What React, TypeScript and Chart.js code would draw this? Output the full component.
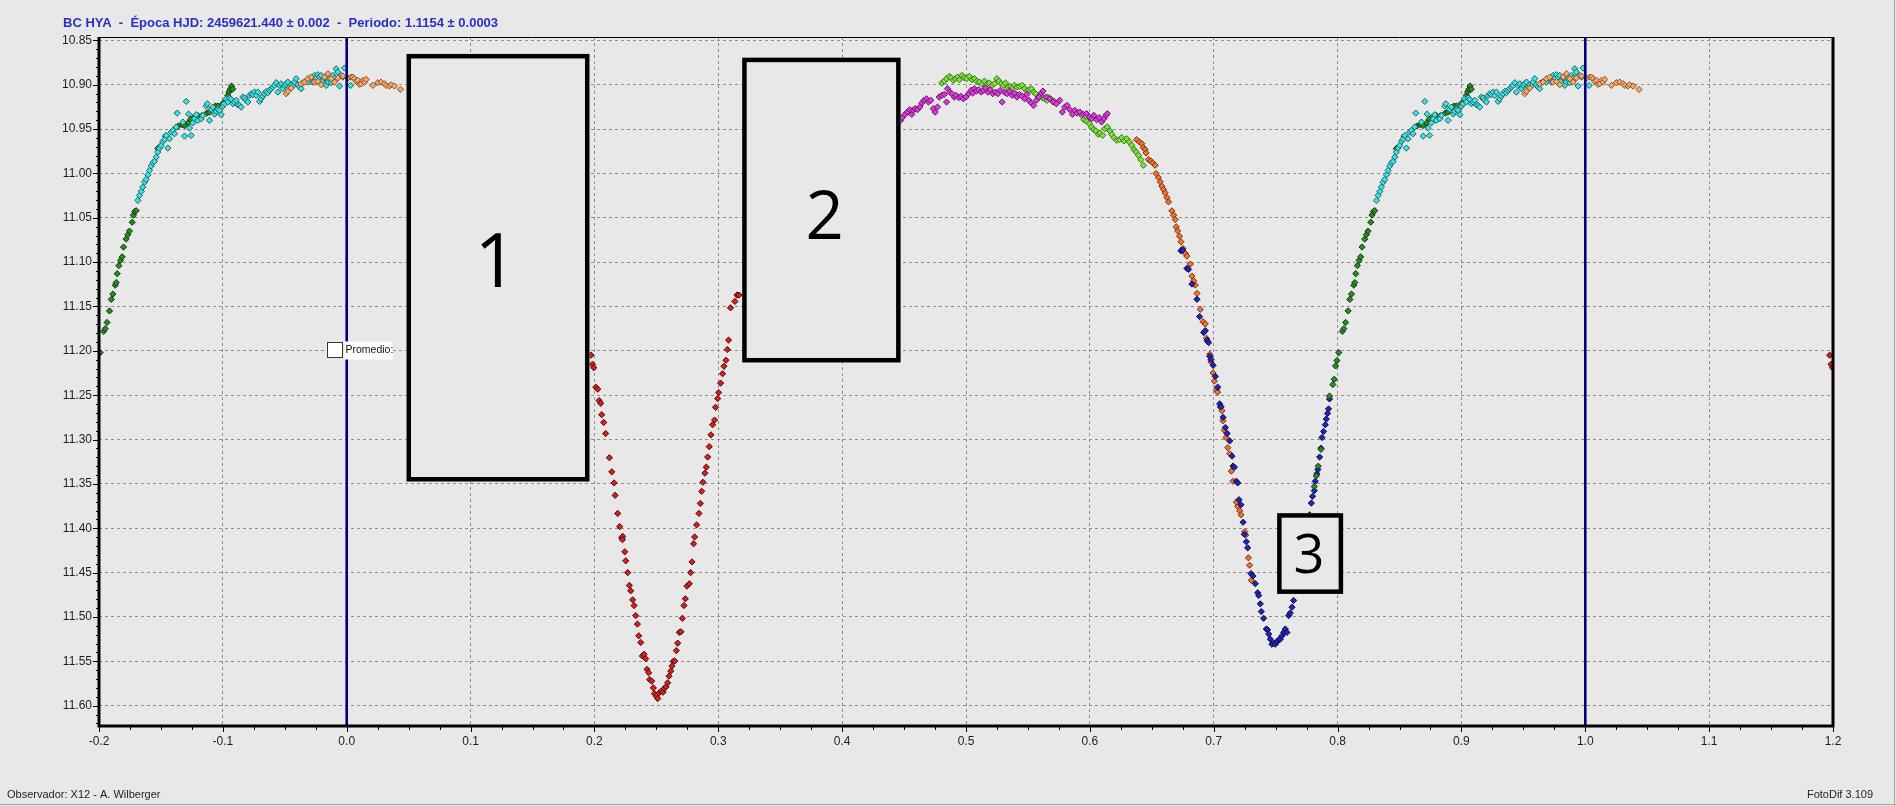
import React, { useEffect, useRef } from "react";
import { Chart, registerables } from "chart.js";

Chart.register(...registerables);

// ---------------- Text ----------------
const TITLE = "BC HYA  -  Época HJD: 2459621.440 ± 0.002  -  Periodo: 1.1154 ± 0.0003";
const FOOT_LEFT = "Observador: X12 - A. Wilberger";
const FOOT_RIGHT = "FotoDif 3.109";
const LEGEND_TEXT = "Promedio:";

// ---------------- Axes ----------------
const X_MIN = -0.2;
const X_MAX = 1.2;
const Y_MIN = 10.8462;
const Y_MAX = 11.6229;
const X_TICKS = [-0.2, -0.1, 0.0, 0.1, 0.2, 0.3, 0.4, 0.5, 0.6, 0.7, 0.8, 0.9, 1.0, 1.1, 1.2];
const X_LABELS = ["-0.2", "-0.1", "0.0", "0.1", "0.2", "0.3", "0.4", "0.5", "0.6", "0.7", "0.8", "0.9", "1.0", "1.1", "1.2"];
const Y_TICKS = [10.85, 10.9, 10.95, 11.0, 11.05, 11.1, 11.15, 11.2, 11.25, 11.3, 11.35, 11.4, 11.45, 11.5, 11.55, 11.6];
const Y_LABELS = ["10.85", "10.90", "10.95", "11.00", "11.05", "11.10", "11.15", "11.20", "11.25", "11.30", "11.35", "11.40", "11.45", "11.50", "11.55", "11.60"];
const PHASE_MARKERS = [0, 1];

// ---------------- Annotation boxes (phase / magnitude extents) ----------------
const BOX_LABELS = ["1", "2", "3"];
const BOX_X0 = [0.0483, 0.3193, 0.7512];
const BOX_X1 = [0.196, 0.4472, 0.8045];
const BOX_Y0 = [10.8653, 10.8695, 11.383];
const BOX_Y1 = [11.3473, 11.2131, 11.474];
const BOX_TX = [0.1204, 0.3859, 0.7768];
const BOX_TY = [11.0973, 11.0466, 11.4292];
const BOX_FONT = [75, 67, 54];

// ---------------- Series (phase, magnitude) ----------------
const darkGreenPhase = [
  0.7812, 0.7828, 0.7844, 0.7866, 0.7935, 0.7962, 0.7973, 0.7984, 0.7995,
  -0.199, -0.1962, -0.1949, -0.1935, -0.1915, -0.1901, -0.1888, -0.1869, -0.1861, -0.1853, -0.184, -0.1826, -0.1813,
  -0.1802, -0.1781, -0.1767, -0.1754, -0.1732, -0.1722, -0.1711, -0.17, -0.1525, -0.1511, -0.1463, -0.136, -0.133,
  -0.131, -0.128, -0.126, -0.123, -0.12, -0.117, -0.113, -0.111, -0.108, -0.106, -0.104, -0.1, -0.097, -0.096,
  -0.095, -0.094, -0.093, -0.092,
];
const darkGreenMag = [
  11.353, 11.341, 11.33, 11.311, 11.251, 11.238, 11.232, 11.217, 11.211,
  11.202, 11.178, 11.175, 11.168, 11.155, 11.142, 11.136, 11.126, 11.123, 11.113, 11.104, 11.098, 11.094,
  11.083, 11.074, 11.069, 11.065, 11.055, 11.047, 11.043, 11.042, 10.972, 10.97, 10.958, 10.9466, 10.945,
  10.946, 10.943, 10.939, 10.936, 10.935, 10.935, 10.932, 10.931, 10.926, 10.924, 10.924, 10.921, 10.918, 10.912,
  10.908, 10.905, 10.9015, 10.905,
];

const cyanPhase = [
  -0.1686, -0.1673, -0.1659, -0.1646, -0.1632, -0.1619, -0.1605, -0.1592, -0.1579, -0.1565, -0.1552, -0.1538,
  -0.1525, -0.1511, -0.1498, -0.1484, -0.1471, -0.1457, -0.1444, -0.1431, -0.1417, -0.1404, -0.139, -0.1377,
  -0.1369, -0.1323, -0.1309, -0.1296, -0.1277, -0.1269, -0.1256, -0.1242, -0.1229, -0.1215, -0.1202, -0.1175,
  -0.1161, -0.1135, -0.1126, -0.1108, -0.1094, -0.1081, -0.1067, -0.1054, -0.104, -0.1027, -0.1013, -0.1,
  -0.0987, -0.0973, -0.096, -0.0946, -0.0933, -0.0919, -0.0906, -0.0892, -0.0879, -0.0865, -0.0852, -0.0839,
  -0.0825, -0.0812, -0.0798, -0.0785, -0.0771, -0.0758, -0.0744, -0.0731, -0.0717, -0.0704, -0.0691, -0.0677,
  -0.0664, -0.065, -0.0637, -0.0623, -0.061, -0.0596, -0.0583, -0.0569, -0.0556, -0.0543, -0.0529, -0.0516,
  -0.0502, -0.0489, -0.0475, -0.0462, -0.0448, -0.0435, -0.0421, -0.0408, -0.0394, -0.0381, -0.0368, -0.0354,
  -0.0314, -0.0287, -0.0273, -0.026, -0.0246, -0.0233, -0.022, -0.0206, -0.0193, -0.0179, -0.0166, -0.0152,
  -0.0139, -0.0125, -0.0112, -0.0098, -0.0085, -0.0072, -0.0058, -0.0045, -0.0031, -0.0018, 0.0031,
];
const cyanMag = [
  11.0305, 11.0248, 11.0203, 11.0154, 11.0098, 11.0068, 11.0015, 10.9966, 10.9917, 10.988, 10.9865, 10.9816,
  10.9759, 10.9714, 10.9684, 10.9639, 10.9617, 10.9571, 10.9714, 10.9609, 10.9534, 10.9515, 10.9553, 10.9477,
  10.932, 10.9421, 10.9579, 10.9188, 10.9331, 10.9489, 10.9571, 10.9429, 10.9383, 10.9338, 10.9402, 10.9383,
  10.9346, 10.9241, 10.9214, 10.9402, 10.9278, 10.9252, 10.9331, 10.9301, 10.9278, 10.9289, 10.9338, 10.9241,
  10.9214, 10.9158, 10.9195, 10.915, 10.9165, 10.9214, 10.9195, 10.9177, 10.9226, 10.9233, 10.9252, 10.9139,
  10.915, 10.9177, 10.9195, 10.912, 10.9102, 10.9113, 10.9083, 10.912, 10.9083, 10.9188, 10.9158, 10.9128,
  10.9102, 10.9075, 10.909, 10.9064, 10.9045, 10.9026, 10.9008, 10.8977, 10.9083, 10.9008, 10.8989, 10.9045,
  10.9008, 10.8989, 10.897, 10.9026, 10.9, 10.9015, 10.897, 10.8932, 10.9, 10.9026, 10.9045, 10.8977,
  10.897, 10.8932, 10.897, 10.8895, 10.8925, 10.8887, 10.8914, 10.8895, 10.8951, 10.8925, 10.9008, 10.897,
  10.8932, 10.8977, 10.8895, 10.8925, 10.882, 10.8857, 10.9015, 10.8895, 10.8914, 10.8812, 10.9008,
];

const lightOrangePhase = [
  -0.0489, -0.0475, -0.0448, -0.0368, -0.0341, -0.0314, -0.0287, -0.026, -0.0233, -0.0206, -0.0179, -0.0152,
  -0.0125, -0.0098, -0.0072, -0.0031, 0.0009, 0.0036, 0.005, 0.0063, 0.0076, 0.009, 0.0103, 0.0117, 0.013,
  0.0144, 0.0157, 0.0211, 0.0251, 0.0278, 0.0305, 0.0319, 0.0345, 0.0359, 0.0386, 0.0434,
];
const lightOrangeMag = [
  10.9102, 10.9075, 10.9038, 10.8989, 10.897, 10.8932, 10.8914, 10.897, 10.8962, 10.9, 10.8914, 10.8876,
  10.8932, 10.897, 10.8925, 10.8902, 10.8925, 10.8914, 10.8914, 10.8932, 10.8962, 10.8951, 10.8996, 10.8989, 10.8951,
  10.897, 10.894, 10.9008, 10.8977, 10.897, 10.8989, 10.9008, 10.9015, 10.9, 10.9015, 10.9053,
];

const redPhase = [
  0.1973, 0.1984, 0.1995, 0.2011, 0.2027, 0.2038, 0.2051, 0.2059, 0.2075, 0.2091, 0.2121, 0.214, 0.2159, 0.2167,
  0.2188, 0.2204, 0.222, 0.2228, 0.2226, 0.2245, 0.2253, 0.2269, 0.2282, 0.2293, 0.2309, 0.232, 0.2333, 0.2347,
  0.2358, 0.2374, 0.2387, 0.2401, 0.2414, 0.2425, 0.2438, 0.2446, 0.2462, 0.2476, 0.2484, 0.25, 0.2511, 0.2522,
  0.2538, 0.2554, 0.2565, 0.2578, 0.2591, 0.2602, 0.2616, 0.2626, 0.2637, 0.2648, 0.2661, 0.2672, 0.2685, 0.2699,
  0.271, 0.2723, 0.2734, 0.2747, 0.2766, 0.2777, 0.2788, 0.2801, 0.2809, 0.2825, 0.2844, 0.2855, 0.2866, 0.2876,
  0.2892, 0.2903, 0.2914, 0.2927, 0.2941, 0.2954, 0.297, 0.2978, 0.2995, 0.3003, 0.3019, 0.3035, 0.3046, 0.3062,
  0.3073, 0.3083, 0.3099, 0.3134, 0.3151, 0.3167,
];
const redMag = [
  11.2049, 11.2152, 11.2189, 11.2409, 11.2432, 11.2561, 11.2591, 11.272, 11.2807, 11.2932, 11.3205, 11.3364, 11.3489, 11.3629,
  11.3833, 11.3981, 11.4106, 11.4091, 11.4129, 11.4265, 11.4367, 11.45, 11.4644, 11.4705, 11.4807, 11.4871, 11.4985, 11.508,
  11.5212, 11.5288, 11.5439, 11.542, 11.547, 11.5591, 11.5629, 11.5705, 11.5723, 11.5799, 11.5864, 11.5894, 11.592, 11.5856,
  11.5837, 11.5848, 11.5803, 11.5788, 11.5742, 11.5667, 11.561, 11.5553, 11.55, 11.5496, 11.5379, 11.5295, 11.5174, 11.5167,
  11.5015, 11.4871, 11.4795, 11.4652, 11.4625, 11.45, 11.4379, 11.4174, 11.4098, 11.3962, 11.3833, 11.372, 11.3583, 11.3481,
  11.3379, 11.3311, 11.3197, 11.308, 11.2947, 11.2833, 11.278, 11.2636, 11.2538, 11.247, 11.2364, 11.2258, 11.2174, 11.2106,
  11.1985, 11.1879, 11.1515, 11.1443, 11.1371, 11.1371,
];

const magentaPhase = [
  0.4473, 0.4486, 0.4508, 0.4527, 0.4546, 0.4562, 0.4573, 0.4589, 0.4608, 0.4627, 0.4643, 0.4662, 0.4681, 0.4697,
  0.4716, 0.4735, 0.4751, 0.477, 0.4784, 0.4805, 0.4824, 0.4843, 0.4851, 0.487, 0.4886, 0.4905, 0.4919, 0.4941,
  0.4959, 0.4978, 0.5, 0.5022, 0.5041, 0.5054, 0.5068, 0.5086, 0.5103, 0.5122, 0.5141, 0.5157, 0.5176, 0.5195,
  0.5216, 0.5238, 0.5257, 0.5276, 0.5292, 0.5311, 0.533, 0.5351, 0.5373, 0.5392, 0.5411, 0.5432, 0.5454, 0.5473,
  0.5492, 0.5508, 0.5527, 0.5546, 0.5568, 0.5589, 0.5608, 0.5622, 0.5649, 0.5676, 0.5703, 0.573, 0.5757, 0.5778,
  0.5797, 0.5816, 0.5838, 0.5859, 0.5878, 0.5897, 0.5919, 0.5946, 0.5973, 0.5995, 0.6014, 0.6032, 0.6054, 0.6076,
  0.6095, 0.6114, 0.613, 0.6141,
];
const magentaMag = [
  10.9401, 10.9371, 10.9334, 10.9308, 10.9281, 10.9334, 10.9289, 10.927, 10.9281, 10.9251, 10.9206, 10.9176, 10.9158, 10.9195,
  10.9176, 10.927, 10.9308, 10.9251, 10.9139, 10.912, 10.9109, 10.9195, 10.9045, 10.9083, 10.9101, 10.9139, 10.912, 10.9146,
  10.9131, 10.9158, 10.9139, 10.9101, 10.9064, 10.9094, 10.9045, 10.9071, 10.9056, 10.9083, 10.9064, 10.9034, 10.9083, 10.9056,
  10.9101, 10.9083, 10.9101, 10.9064, 10.9195, 10.9083, 10.9101, 10.9071, 10.912, 10.9094, 10.9139, 10.9109, 10.9131, 10.9158,
  10.9109, 10.9176, 10.9206, 10.9233, 10.9176, 10.9139, 10.9094, 10.9071, 10.9139, 10.9158, 10.9195, 10.9214, 10.9176, 10.9308,
  10.9251, 10.9233, 10.9281, 10.9334, 10.9289, 10.9319, 10.9308, 10.9334, 10.9326, 10.9364, 10.9383, 10.9345, 10.9394, 10.9371,
  10.942, 10.9383, 10.9345, 10.9326,
];

const lightGreenPhase = [
  0.4805, 0.4824, 0.4843, 0.4865, 0.4878, 0.4897, 0.4914, 0.4932, 0.4946, 0.4968, 0.4986, 0.5005, 0.5027, 0.5049,
  0.5068, 0.5086, 0.5108, 0.513, 0.5149, 0.5168, 0.5189, 0.5211, 0.523, 0.5249, 0.5265, 0.5284, 0.5303, 0.5319,
  0.5338, 0.5357, 0.5373, 0.5392, 0.5411, 0.5432, 0.5454, 0.5473, 0.5492, 0.5508, 0.5527, 0.5546, 0.5562, 0.5581,
  0.56, 0.5616, 0.5635, 0.5654, 0.567, 0.5689, 0.5708, 0.5724, 0.5743, 0.5932, 0.5951, 0.5973, 0.5995, 0.6014,
  0.6032, 0.6049, 0.6068, 0.6081, 0.6103, 0.6122, 0.6141, 0.6162, 0.6176, 0.6195, 0.6216, 0.6238, 0.6257, 0.6276,
  0.6297, 0.6319, 0.6338, 0.6357, 0.6373, 0.6392, 0.6411, 0.6432,
];
const lightGreenMag = [
  10.8981, 10.8959, 10.8932, 10.8906, 10.8921, 10.8951, 10.8932, 10.8914, 10.8944, 10.8895, 10.8921, 10.8932, 10.8906, 10.8944,
  10.8932, 10.8959, 10.897, 10.8989, 10.8959, 10.8996, 10.8981, 10.9008, 10.8989, 10.8932, 10.8959, 10.8989, 10.9008, 10.8981,
  10.9026, 10.9019, 10.9034, 10.9008, 10.9026, 10.9019, 10.9008, 10.9045, 10.9071, 10.9056, 10.9045, 10.9083, 10.9101, 10.9139,
  10.912, 10.9146, 10.9158, 10.9176, 10.9146, 10.9169, 10.9184, 10.9206, 10.9195, 10.9345, 10.9394, 10.9409, 10.9439, 10.9476,
  10.9506, 10.9521, 10.9559, 10.9544, 10.957, 10.9495, 10.9476, 10.9521, 10.9559, 10.9596, 10.9626, 10.9619, 10.9596, 10.9634,
  10.9608, 10.9645, 10.9683, 10.9731, 10.9758, 10.9795, 10.9844, 10.9908,
];

const darkOrangePhase = [
  0.6378, 0.64, 0.6419, 0.6432, 0.6446, 0.6454, 0.6473, 0.6492, 0.6508, 0.6527, 0.6535, 0.6554, 0.6568, 0.6581,
  0.6595, 0.6608, 0.6622, 0.6635, 0.6662, 0.6676, 0.6689, 0.6697, 0.6708, 0.6724, 0.6735, 0.6751, 0.677, 0.6784,
  0.6811, 0.6824, 0.6838, 0.6851, 0.6865, 0.6892, 0.6914, 0.6932, 0.6941, 0.6951, 0.6968, 0.6978, 0.6995, 0.7005,
  0.7022, 0.7032, 0.7054, 0.7067, 0.7075, 0.7086, 0.7099, 0.7113, 0.7129, 0.7142, 0.7156, 0.7183, 0.7194, 0.721,
  0.722, 0.725, 0.7258, 0.728, 0.729, 0.7304,
];
const darkOrangeMag = [
  10.9619, 10.9645, 10.9664, 10.9709, 10.9731, 10.9769, 10.9844, 10.9859, 10.9881, 10.9908, 11.0002, 11.0047, 11.0095, 11.0144,
  11.0182, 11.0219, 11.0272, 11.032, 11.0422, 11.047, 11.0519, 11.0602, 11.0647, 11.0707, 11.077, 11.0845, 11.0902, 11.0932,
  11.1022, 11.1157, 11.121, 11.1258, 11.1352, 11.1532, 11.1671, 11.1697, 11.1858, 11.1896, 11.2038, 11.2125, 11.225, 11.2341,
  11.2439, 11.2466, 11.2636, 11.2674, 11.2788, 11.2894, 11.2977, 11.3091, 11.3159, 11.3356, 11.347, 11.3705, 11.3754, 11.3803,
  11.3848, 11.4038, 11.4076, 11.4333, 11.4417, 11.4587,
];

const bluePhase = [
  0.6735, 0.6751, 0.6784, 0.6797, 0.6824, 0.6865, 0.6886, 0.6919, 0.6932, 0.6946, 0.6959, 0.6968, 0.6978, 0.6995,
  0.7013, 0.7032, 0.7048, 0.7059, 0.7075, 0.7094, 0.7108, 0.7129, 0.7148, 0.7156, 0.7167, 0.7183, 0.7194, 0.7204,
  0.722, 0.7237, 0.7247, 0.7263, 0.7274, 0.7301, 0.7317, 0.7336, 0.7355, 0.7363, 0.7376, 0.7384, 0.7403, 0.7425,
  0.7435, 0.7444, 0.7457, 0.747, 0.7484, 0.7497, 0.7511, 0.7524, 0.7538, 0.7551, 0.7565, 0.7578, 0.7591, 0.7605,
  0.7618, 0.7632, 0.7645, 0.7774, 0.7788, 0.7798, 0.7812, 0.782, 0.7833, 0.7841, 0.7855, 0.7866, 0.7874, 0.7887,
  0.7901, 0.7909, 0.7919, 0.7927, 0.7935,
];
const blueMag = [
  11.0872, 11.0864, 11.1071, 11.1082, 11.1247, 11.1419, 11.1614, 11.1794, 11.1772, 11.1879, 11.1907, 11.2061, 11.2098, 11.2163,
  11.2288, 11.2409, 11.2598, 11.2629, 11.275, 11.2864, 11.2932, 11.3015, 11.3186, 11.3299, 11.3311, 11.347, 11.3489, 11.3678,
  11.3735, 11.3932, 11.4068, 11.4152, 11.422, 11.4511, 11.4538, 11.4625, 11.4727, 11.4758, 11.4852, 11.4939, 11.5015, 11.5136,
  11.5144, 11.5193, 11.525, 11.5307, 11.5295, 11.5307, 11.528, 11.5258, 11.525, 11.5212, 11.5174, 11.5136, 11.5174, 11.4985,
  11.4955, 11.489, 11.4814, 11.3848, 11.3716, 11.364, 11.3576, 11.347, 11.3386, 11.3337, 11.3197, 11.3098, 11.2977, 11.2909,
  11.2833, 11.2769, 11.2705, 11.2655, 11.2542,
];

// ---------------- Styles ----------------
const BG = "#e8e8e9";
const GRID = "#8f8f8f";
const NAVY = "#00007e";
const TITLE_COLOR = "#2a2fc4";
const TEXT_COLOR = "#1e1e1e";

type Series = { phase: number[]; mag: number[]; fill: string; stroke: string };
const SERIES: Series[] = [
  { phase: lightOrangePhase, mag: lightOrangeMag, fill: "#f6a96b", stroke: "#8c5426" },
  { phase: cyanPhase, mag: cyanMag, fill: "#3fe2e2", stroke: "#1b6565" },
  { phase: darkGreenPhase, mag: darkGreenMag, fill: "#2b8a22", stroke: "#0e3a0c" },
  { phase: redPhase, mag: redMag, fill: "#d42222", stroke: "#520808" },
  { phase: magentaPhase, mag: magentaMag, fill: "#d93cd9", stroke: "#6a126a" },
  { phase: lightGreenPhase, mag: lightGreenMag, fill: "#7ee042", stroke: "#3a7412" },
  { phase: bluePhase, mag: blueMag, fill: "#2424b8", stroke: "#0a0a4c" },
  { phase: darkOrangePhase, mag: darkOrangeMag, fill: "#f07232", stroke: "#7a3210" },
];

// Phase diagram repeats each observation one cycle left / right inside the plotted window
function wrapped(phase: number[], mag: number[]) {
  const out: { x: number; y: number }[] = [];
  for (let i = 0; i < phase.length; i++) {
    for (const k of [-1, 0, 1]) {
      const x = phase[i] + k;
      if (x >= X_MIN - 1e-6 && x <= X_MAX + 1e-6) out.push({ x, y: mag[i] });
    }
  }
  return out;
}

const overlayPlugin = {
  id: "fotodifOverlay",
  beforeDraw(chart: any) {
    const { ctx, width, height } = chart;
    ctx.save();
    ctx.fillStyle = BG;
    ctx.fillRect(0, 0, width, height);
    ctx.restore();
  },
  afterDatasetsDraw(chart: any) {
    const { ctx, chartArea, width, height } = chart;
    const xs = chart.scales.x;
    const ys = chart.scales.y;
    const { left, right, top, bottom } = chartArea;
    ctx.save();

    // phase marker lines
    ctx.strokeStyle = NAVY;
    ctx.lineWidth = 2.6;
    for (const p of PHASE_MARKERS) {
      const px = xs.getPixelForValue(p);
      ctx.beginPath();
      ctx.moveTo(px, top);
      ctx.lineTo(px, bottom);
      ctx.stroke();
    }

    // annotation boxes
    for (let i = 0; i < BOX_LABELS.length; i++) {
      const x0 = xs.getPixelForValue(BOX_X0[i]);
      const x1 = xs.getPixelForValue(BOX_X1[i]);
      const y0 = ys.getPixelForValue(BOX_Y0[i]);
      const y1 = ys.getPixelForValue(BOX_Y1[i]);
      const lw = 4.5;
      ctx.fillStyle = BG;
      ctx.fillRect(x0, y0, x1 - x0, y1 - y0);
      ctx.strokeStyle = "#000";
      ctx.lineWidth = lw;
      ctx.setLineDash([]);
      ctx.strokeRect(x0 + lw / 2, y0 + lw / 2, x1 - x0 - lw, y1 - y0 - lw);
      const fs = BOX_FONT[i];
      ctx.fillStyle = "#000";
      ctx.font = `${fs}px "Open Sans", "Liberation Sans", Arial, sans-serif`;
      ctx.textAlign = "center";
      ctx.textBaseline = "alphabetic";
      ctx.fillText(
        BOX_LABELS[i],
        xs.getPixelForValue(BOX_TX[i]),
        ys.getPixelForValue(BOX_TY[i]) + fs * 0.357
      );
    }

    // frame
    ctx.strokeStyle = "#000";
    ctx.lineWidth = 1;
    ctx.beginPath();
    ctx.moveTo(left, top + 0.5);
    ctx.lineTo(right, top + 0.5);
    ctx.stroke();
    ctx.lineWidth = 3;
    ctx.beginPath();
    ctx.moveTo(left, top);
    ctx.lineTo(left, bottom);
    ctx.lineTo(right, bottom);
    ctx.lineTo(right, top);
    ctx.stroke();

    // ticks
    ctx.lineWidth = 1;
    ctx.strokeStyle = "#000";
    for (let v = 0; v <= 56; v++) {
      const val = X_MIN + v * 0.025;
      const px = Math.round(xs.getPixelForValue(val)) + 0.5;
      const major = v % 4 === 0;
      ctx.beginPath();
      ctx.moveTo(px, bottom);
      ctx.lineTo(px, bottom + (major ? 6 : 4));
      ctx.stroke();
    }
    for (let v = 0; v <= 77; v++) {
      const val = 10.85 + v * 0.01;
      if (val > Y_MAX) break;
      const py = Math.round(ys.getPixelForValue(val)) + 0.5;
      const major = v % 5 === 0;
      ctx.beginPath();
      ctx.moveTo(left, py);
      ctx.lineTo(left - (major ? 6 : 3), py);
      ctx.stroke();
    }

    // tick labels
    ctx.fillStyle = TEXT_COLOR;
    ctx.font = '12px "Liberation Sans", Arial, sans-serif';
    ctx.textAlign = "center";
    ctx.textBaseline = "middle";
    X_TICKS.forEach((v, i) => {
      ctx.fillText(X_LABELS[i], xs.getPixelForValue(v), bottom + 16);
    });
    ctx.textAlign = "right";
    Y_TICKS.forEach((v, i) => {
      ctx.fillText(Y_LABELS[i], left - 7, ys.getPixelForValue(v));
    });

    // title
    ctx.fillStyle = TITLE_COLOR;
    ctx.font = 'bold 13px "Liberation Sans", Arial, sans-serif';
    ctx.textAlign = "left";
    ctx.fillText(TITLE, 63, 23);

    // footer
    ctx.fillStyle = TEXT_COLOR;
    ctx.font = '11px "Liberation Sans", Arial, sans-serif';
    ctx.fillText(FOOT_LEFT, 7, 795);
    ctx.textAlign = "right";
    ctx.fillText(FOOT_RIGHT, 1873, 795);

    // legend "Promedio:"
    const lx = left + 228.5;
    const ly = top + 305.5;
    ctx.fillStyle = "#ffffff";
    ctx.fillRect(lx + 17, ly - 1, 48, 18);
    ctx.fillRect(lx, ly, 15, 15);
    ctx.strokeStyle = "#333";
    ctx.lineWidth = 1;
    ctx.strokeRect(lx, ly, 15, 15);
    ctx.fillStyle = "#111";
    ctx.font = '10.5px "Liberation Sans", Arial, sans-serif';
    ctx.textAlign = "left";
    ctx.fillText(LEGEND_TEXT, lx + 18, ly + 7.5);

    // outer window edges
    ctx.strokeStyle = "#a8a8a8";
    ctx.beginPath();
    ctx.moveTo(0, height - 1.5);
    ctx.lineTo(width, height - 1.5);
    ctx.moveTo(width - 1.5, 0);
    ctx.lineTo(width - 1.5, height);
    ctx.stroke();

    ctx.restore();
  },
};

export default function App() {
  const ref = useRef<HTMLCanvasElement | null>(null);

  useEffect(() => {
    document.body.style.margin = "0";
    document.body.style.background = BG;
    const canvas = ref.current;
    if (!canvas) return;
    const datasets = SERIES.map((s, i) => ({
      label: `s${i}`,
      data: wrapped(s.phase, s.mag),
      pointStyle: "rectRot" as const,
      pointRadius: 3.1,
      pointBorderWidth: 1,
      backgroundColor: s.fill,
      borderColor: s.stroke,
      showLine: false,
    }));
    const chart = new Chart(canvas, {
      type: "scatter",
      data: { datasets },
      options: {
        animation: false,
        responsive: false,
        devicePixelRatio: 1,
        layout: { padding: { left: 0, top: 37, right: 63, bottom: 0 } },
        plugins: {
          legend: { display: false },
          tooltip: { enabled: false },
          title: { display: false },
        },
        scales: {
          x: {
            type: "linear",
            min: X_MIN,
            max: X_MAX,
            afterBuildTicks: (s: any) => {
              s.ticks = X_TICKS.map((v) => ({ value: v }));
            },
            afterFit: (s: any) => {
              s.height = 80;
            },
            ticks: { display: false },
            grid: { color: GRID, lineWidth: 1, drawTicks: false },
            border: { display: false, dash: [3, 3] },
          },
          y: {
            type: "linear",
            reverse: true,
            min: Y_MIN,
            max: Y_MAX,
            afterBuildTicks: (s: any) => {
              s.ticks = Y_TICKS.map((v) => ({ value: v }));
            },
            afterFit: (s: any) => {
              s.width = 99;
            },
            ticks: { display: false },
            grid: { color: GRID, lineWidth: 1, drawTicks: false },
            border: { display: false, dash: [3, 3] },
          },
        },
      } as any,
      plugins: [overlayPlugin],
    });
    return () => chart.destroy();
  }, []);

  return (
    <div style={{ width: 1896, height: 806, background: BG }}>
      <canvas ref={ref} width={1896} height={806} style={{ display: "block" }} />
    </div>
  );
}
